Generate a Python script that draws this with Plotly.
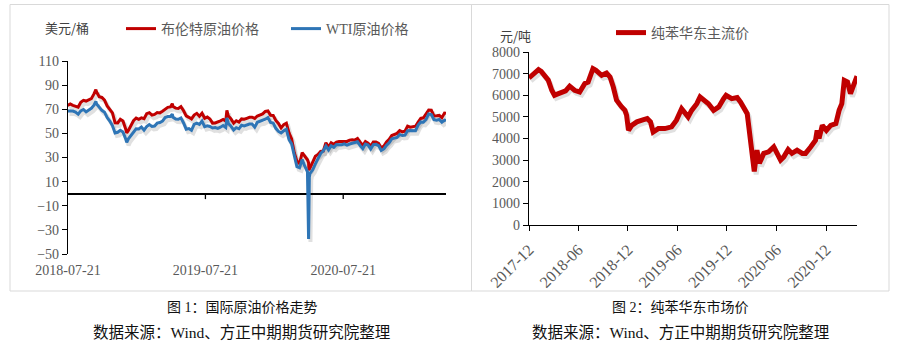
import pandas as pd
import plotly.graph_objects as go

# ---------------- Left chart data: weekly (Friday) closes ----------------
week_start = "2018-07-20"
week_end = "2021-04-16"

brent_2018 = [73.1, 74.3, 73.2, 72.8, 71.8, 75.8, 77.4, 76.8, 78.1, 78.8, 82.7, 84.2,
              80.4, 79.8, 77.6, 72.8, 70.2, 67.0, 58.8, 58.7, 61.7, 60.3, 53.8, 52.2]
brent_2019 = [57.1, 60.5, 62.7, 61.6,
              62.8, 62.1, 66.3, 67.1,
              65.1, 65.7, 67.2, 67.0, 68.4,
              70.3, 71.6, 71.9, 72.2,
              70.9, 70.6, 72.2, 68.7, 64.5,
              63.3, 62.0, 65.2, 66.6,
              64.2, 66.7, 62.5, 63.5,
              61.9, 58.5, 58.6, 59.3, 60.4,
              61.5, 60.2, 64.3, 61.9,
              58.4, 60.5, 59.4, 62.0,
              61.7, 62.5, 63.3, 63.4, 62.4,
              64.4, 65.2, 66.1, 68.2]
brent_2020 = [68.6, 65.0, 64.9, 60.7, 58.2,
              54.5, 57.3, 58.5, 50.5,
              45.3, 33.9, 27.0, 24.9,
              34.1, 31.5, 28.1, 21.4,
              26.4, 31.0, 32.5, 35.1, 35.3,
              42.3, 38.7, 42.2, 41.0,
              42.8, 43.2, 43.1, 43.3, 43.3,
              44.4, 44.8, 44.4, 45.8,
              42.7, 39.8, 43.2, 41.9,
              39.3, 42.9, 42.9, 41.8, 37.9,
              39.5, 42.8, 45.0, 48.2,
              49.3, 50.0, 52.3, 51.3]
brent_2021 = [51.8, 56.0, 55.1, 55.4, 55.9,
              59.3, 62.4, 62.9, 66.1,
              69.4, 69.2, 64.5, 64.6,
              64.9, 63.0, 66.8]

wti_2018 = [68.5, 68.7, 68.5, 67.6, 65.9, 68.7, 69.8, 67.8, 69.0, 70.8, 73.3, 74.3,
            71.3, 69.1, 67.6, 63.1, 60.2, 56.5, 50.4, 50.9, 52.6, 51.2, 45.6, 45.3]
wti_2019 = [48.0, 51.6, 53.8, 53.7,
            55.3, 52.7, 55.6, 57.3,
            55.8, 56.1, 58.5, 59.0, 60.1,
            63.1, 63.9, 64.0, 63.3,
            61.9, 61.7, 62.8, 58.6, 53.5,
            54.0, 52.5, 57.4, 58.5,
            57.5, 60.2, 55.6, 56.2,
            55.7, 54.5, 54.9, 54.2, 55.1,
            56.5, 54.9, 58.1, 55.9,
            52.8, 54.7, 53.8, 56.7,
            56.2, 57.2, 57.7, 57.8, 55.2,
            59.2, 60.1, 60.4, 61.7]
wti_2020 = [63.1, 59.0, 58.5, 54.2, 51.6,
            50.3, 52.1, 53.4, 44.8,
            41.3, 31.7, 22.4, 21.5,
            28.3, 22.8, 18.3, 16.9,
            19.8, 24.7, 29.4, 33.3, 35.5,
            39.6, 36.3, 39.8, 38.5,
            40.7, 40.6, 40.6, 41.3, 40.3,
            41.2, 42.0, 42.3, 43.0,
            39.8, 37.3, 41.1, 40.3,
            37.1, 40.6, 40.9, 39.9, 35.8,
            37.1, 40.1, 42.2, 45.5,
            46.3, 46.6, 49.1, 48.2]
wti_2021 = [48.5, 52.2, 52.4, 52.3, 52.2,
            56.9, 59.5, 59.2, 61.5,
            66.1, 65.6, 61.4, 61.0,
            61.5, 59.3, 61.0]

# individual daily closes (peaks, troughs, negative WTI settlement)
extra_dates = ["2018-10-03", "2018-12-24", "2019-04-24", "2019-09-16",
               "2020-04-20", "2020-04-21", "2020-04-22", "2021-04-20"]
extra_brent = [86.3, 50.5, 74.6, 69.0, 25.6, 19.3, 20.4, 66.6]
extra_wti = [76.4, 42.5, 65.9, 62.9, -37.6, 10.0, 13.8, 60.5]

left_ticks = ["2018-07-21", "2019-07-21", "2020-07-21"]

# ---------------- Right chart data ----------------
benzene_dates = ["2017-12-01", "2017-12-15", "2018-01-05", "2018-01-15", "2018-01-29",
                 "2018-02-10", "2018-02-23", "2018-03-05", "2018-03-15", "2018-03-30",
                 "2018-04-15", "2018-04-30", "2018-05-18", "2018-06-06", "2018-06-25",
                 "2018-07-07", "2018-07-25", "2018-08-05", "2018-08-13", "2018-08-26",
                 "2018-09-13", "2018-09-26", "2018-10-08", "2018-10-20", "2018-11-08",
                 "2018-11-20", "2018-11-26", "2018-12-03", "2018-12-15", "2019-01-03",
                 "2019-01-22", "2019-02-10", "2019-02-22", "2019-03-04", "2019-03-23",
                 "2019-04-16", "2019-05-11", "2019-05-29", "2019-06-17", "2019-06-29",
                 "2019-07-11", "2019-07-24", "2019-08-12", "2019-08-24", "2019-09-06",
                 "2019-09-24", "2019-10-13", "2019-11-01", "2019-11-19", "2019-11-28",
                 "2019-12-19", "2020-01-08", "2020-01-20", "2020-02-01", "2020-02-14",
                 "2020-02-20", "2020-02-26", "2020-03-02", "2020-03-11", "2020-03-21",
                 "2020-03-30", "2020-04-15", "2020-05-03", "2020-05-22", "2020-06-03",
                 "2020-06-16", "2020-06-28", "2020-07-14", "2020-07-28", "2020-08-16",
                 "2020-09-04", "2020-09-16", "2020-10-05", "2020-10-23", "2020-10-29",
                 "2020-11-05", "2020-11-17", "2020-12-02", "2020-12-18", "2021-01-06",
                 "2021-01-18", "2021-01-28", "2021-02-06", "2021-02-18", "2021-03-01",
                 "2021-03-13", "2021-03-25"]
benzene_values = [6800, 6950, 7180, 7100, 6920,
                  6700, 6230, 6000, 6050, 6150,
                  6200, 6420, 6230, 6150, 6540,
                  6610, 7230, 7150, 7080, 6920,
                  7030, 6840, 6380, 5770, 5460,
                  5300, 5075, 4380, 4610, 4770,
                  4850, 4920, 4770, 4300, 4460,
                  4460, 4540, 4850, 5380, 5230,
                  5000, 5300, 5610, 5920, 5770,
                  5610, 5300, 5460, 5840, 6000,
                  5840, 5890, 5690, 5460, 5150,
                  4540, 3920, 3150, 2480, 3460,
                  2850, 3310, 3380, 3610, 3310,
                  3000, 3150, 3490, 3310, 3460,
                  3310, 3310, 3610, 3920, 4380,
                  4000, 4610, 4380, 4610, 4690,
                  5300, 5610, 6690, 6610, 6080,
                  6540, 6880]
right_tickvals = ["2017-12-01", "2018-06-01", "2018-12-01", "2019-06-01",
                  "2019-12-01", "2020-06-01", "2020-12-01"]
right_ticktext = ["2017-12", "2018-06", "2018-12", "2019-06", "2019-12", "2020-06", "2020-12"]

# ---------------- assemble ----------------
weeks = pd.date_range(week_start, week_end, freq="7D")
oil = pd.DataFrame({
    "date": list(weeks) + list(pd.to_datetime(extra_dates)),
    "brent": brent_2018 + brent_2019 + brent_2020 + brent_2021 + extra_brent,
    "wti": wti_2018 + wti_2019 + wti_2020 + wti_2021 + extra_wti,
}).sort_values("date")

bz = pd.DataFrame({"date": pd.to_datetime(benzene_dates), "v": benzene_values})

RED = "#C00000"
BLUE = "#2E75B6"
SHADOW = "rgba(0,0,0,0.12)"
TICKFONT = dict(family="Liberation Serif, Noto Sans CJK SC", size=14, color="#595959")
XTICKFONT2 = dict(family="Liberation Serif, Noto Sans CJK SC", size=16, color="#595959")
LEGFONT = dict(family="Liberation Serif, Noto Sans CJK SC", size=14, color="#595959")

fig = go.Figure()

# soft shadows under the lines
fig.add_trace(go.Scatter(x=oil["date"] + pd.Timedelta(days=5), y=oil["brent"] - 2.5,
                         mode="lines", line=dict(color=SHADOW, width=4),
                         showlegend=False, hoverinfo="skip", xaxis="x", yaxis="y"))
fig.add_trace(go.Scatter(x=oil["date"] + pd.Timedelta(days=5), y=oil["wti"] - 2.5,
                         mode="lines", line=dict(color=SHADOW, width=4),
                         showlegend=False, hoverinfo="skip", xaxis="x", yaxis="y"))
fig.add_trace(go.Scatter(x=oil["date"], y=oil["brent"], mode="lines", name="布伦特原油价格",
                         line=dict(color=RED, width=3), xaxis="x", yaxis="y", legend="legend"))
fig.add_trace(go.Scatter(x=oil["date"], y=oil["wti"], mode="lines", name="WTI原油价格",
                         line=dict(color=BLUE, width=3), xaxis="x", yaxis="y", legend="legend"))

fig.add_trace(go.Scatter(x=bz["date"] + pd.Timedelta(days=7), y=bz["v"] - 140,
                         mode="lines", line=dict(color=SHADOW, width=5),
                         showlegend=False, hoverinfo="skip", xaxis="x2", yaxis="y2"))
fig.add_trace(go.Scatter(x=bz["date"], y=bz["v"], mode="lines", name="纯苯华东主流价",
                         line=dict(color=RED, width=5), xaxis="x2", yaxis="y2", legend="legend2"))

W, H = 911, 341
def px(v):
    return v / W
def py(v):
    return 1 - v / H

shapes = [
    dict(type="rect", xref="paper", yref="paper", x0=px(10), x1=px(471.5), y0=py(291), y1=py(4.5),
         line=dict(color="#d9d9d9", width=1)),
    dict(type="rect", xref="paper", yref="paper", x0=px(471.5), x1=px(889), y0=py(291), y1=py(4.5),
         line=dict(color="#d9d9d9", width=1)),
]
# small tick marks hanging under the zero-crossing category axis
for t in left_ticks[1:]:
    shapes.append(dict(type="line", xref="x", yref="y", x0=t, x1=t, y0=0, y1=-4.5,
                       line=dict(color="black", width=1.3), layer="above"))

annotations = [
    dict(text="美元/桶", x=px(43), y=py(27), xref="paper", yref="paper", xanchor="left",
         yanchor="middle", showarrow=False,
         font=dict(family="Noto Sans CJK SC", size=13, color="#404040")),
    dict(text="元/吨", x=px(498), y=py(35), xref="paper", yref="paper", xanchor="left",
         yanchor="middle", showarrow=False,
         font=dict(family="Noto Sans CJK SC", size=13, color="#404040")),
    dict(text="图 1：国际原油价格走势", x=px(242), y=py(307), xref="paper", yref="paper",
         xanchor="center", yanchor="middle", showarrow=False,
         font=dict(family="Liberation Serif, Noto Sans CJK SC", size=14, color="#111")),
    dict(text="数据来源：Wind、方正中期期货研究院整理", x=px(241), y=py(332), xref="paper", yref="paper",
         xanchor="center", yanchor="middle", showarrow=False,
         font=dict(family="Liberation Serif, Noto Sans CJK SC", size=15.5, color="#111")),
    dict(text="图 2：纯苯华东市场价", x=px(680), y=py(307), xref="paper", yref="paper",
         xanchor="center", yanchor="middle", showarrow=False,
         font=dict(family="Liberation Serif, Noto Sans CJK SC", size=14, color="#111")),
    dict(text="数据来源：Wind、方正中期期货研究院整理", x=px(680), y=py(332), xref="paper", yref="paper",
         xanchor="center", yanchor="middle", showarrow=False,
         font=dict(family="Liberation Serif, Noto Sans CJK SC", size=15.5, color="#111")),
]

fig.update_layout(
    template="none",
    width=W, height=H, margin=dict(l=0, r=0, t=0, b=0, pad=0),
    paper_bgcolor="white", plot_bgcolor="white",
    showlegend=True,
    xaxis=dict(domain=[px(68), px(446)], type="date", range=["2018-07-21", "2021-04-20"],
               tickvals=left_ticks, ticktext=left_ticks, showline=False, showgrid=False,
               zeroline=False, ticks="", tickfont=TICKFONT, anchor="y", ticklabelstandoff=6,
               automargin=False),
    yaxis=dict(domain=[py(254), py(61)], range=[-50, 110], tickvals=list(range(-50, 111, 20)),
               showline=True, linecolor="black", linewidth=1.3, ticks="outside", ticklen=5,
               tickcolor="black", zeroline=True, zerolinecolor="black", zerolinewidth=1.5,
               showgrid=False, tickfont=TICKFONT, anchor="x", automargin=False),
    xaxis2=dict(domain=[px(529), px(857)], type="date", range=["2017-12-01", "2021-03-25"],
                tickvals=right_tickvals, ticktext=right_ticktext, tickangle=-45,
                showline=True, linecolor="black", linewidth=1.3, ticks="outside", ticklen=5,
                tickcolor="black", showgrid=False, zeroline=False, tickfont=XTICKFONT2,
                anchor="y2", automargin=False, ticklabelstandoff=3),
    yaxis2=dict(domain=[py(225), py(52)], range=[0, 8000], dtick=1000,
                showline=True, linecolor="black", linewidth=1.3, ticks="outside", ticklen=5,
                tickcolor="black", showgrid=False, zeroline=False, tickfont=TICKFONT, anchor="x2",
                automargin=False),
    legend=dict(orientation="h", x=px(121), y=py(29), xanchor="left", yanchor="middle",
                font=LEGFONT, bgcolor="rgba(0,0,0,0)", itemwidth=30, entrywidth=120,
                entrywidthmode="pixels"),
    legend2=dict(orientation="h", x=px(611), y=py(33), xanchor="left", yanchor="middle",
                 font=LEGFONT, bgcolor="rgba(0,0,0,0)", itemwidth=30),
    shapes=shapes,
    annotations=annotations,
)

fig.write_html("out.html")
